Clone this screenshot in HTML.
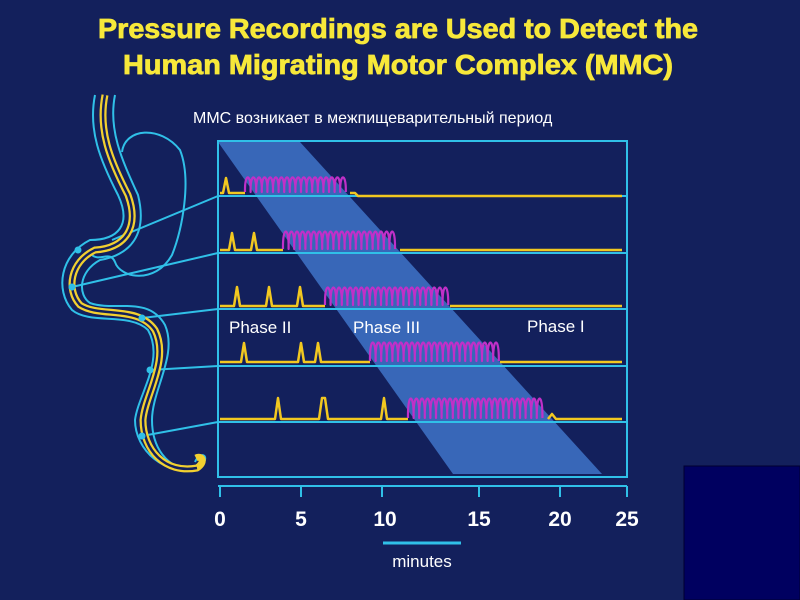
<!DOCTYPE html>
<html><head><meta charset="utf-8"><style>
html,body{margin:0;padding:0;background:#13205c;}
svg{display:block}
</style></head><body>
<svg id="s" width="800" height="600" viewBox="0 0 800 600" xmlns="http://www.w3.org/2000/svg">
<rect width="800" height="600" fill="#13205c"/>
<rect x="684" y="466" width="116" height="134" fill="#000060" stroke="#000030"/>
<g font-family="Liberation Sans, sans-serif" font-weight="bold" font-size="28" fill="#f7e83a" stroke="#f7e83a" stroke-width="0.8" text-anchor="middle">
<text x="398" y="38" textLength="600" lengthAdjust="spacingAndGlyphs">Pressure Recordings are Used to Detect the</text>
<text x="398" y="74" textLength="550" lengthAdjust="spacingAndGlyphs">Human Migrating Motor Complex (MMC)</text>
</g>
<text x="193" y="123" font-family="Liberation Sans, sans-serif" font-size="16" fill="#fff">MMC возникает в межпищеварительный период</text>
<polygon points="218,142 300,142 602,474 453,474" fill="#3f74c8" opacity="0.85"/>
<rect x="218" y="141" width="409" height="336" fill="none" stroke="#30c0e8" stroke-width="2"/>
<g stroke="#30c0e8" stroke-width="2">
<line x1="218" y1="196" x2="627" y2="196"/><line x1="218" y1="253" x2="627" y2="253"/>
<line x1="218" y1="309" x2="627" y2="309"/><line x1="218" y1="366" x2="627" y2="366"/>
<line x1="218" y1="422" x2="627" y2="422"/>
<line x1="218" y1="486" x2="627" y2="486"/>
<line x1="220" y1="486" x2="220" y2="497"/><line x1="301" y1="486" x2="301" y2="497"/>
<line x1="382" y1="486" x2="382" y2="497"/><line x1="479" y1="486" x2="479" y2="497"/>
<line x1="560" y1="486" x2="560" y2="497"/><line x1="627" y1="486" x2="627" y2="497"/>
<line x1="383" y1="543" x2="461" y2="543" stroke-width="3"/>
</g>
<g font-family="Liberation Sans, sans-serif" font-size="21" fill="#fff" text-anchor="middle" font-weight="bold">
<text x="220" y="526">0</text><text x="301" y="526">5</text><text x="385" y="526">10</text>
<text x="479" y="526">15</text><text x="560" y="526">20</text><text x="627" y="526">25</text>
</g>
<text x="422" y="567" font-family="Liberation Sans, sans-serif" font-size="17" fill="#fff" text-anchor="middle">minutes</text>
<g font-family="Liberation Sans, sans-serif" font-size="17" fill="#fff">
<text x="229" y="333">Phase II</text><text x="353" y="333">Phase III</text><text x="527" y="332">Phase I</text>
</g>
<g fill="none" stroke-width="2.5" stroke-linejoin="round">
<path stroke="#f2c820" d="M220,193 L223,193 L226,178 L229,193 L245,193 M350,193 L355,193 L358,196 L622,196"/>
<path stroke="#f2c820" d="M220,250 L229,250 L232,233 L235,250 L251,250 L254,233 L257,250 L283,250 M400,250 L622,250"/>
<path stroke="#f2c820" d="M220,306 L234,306 L237,287 L240,306 L266,306 L269,287 L272,306 L297,306 L300,287 L303,306 L325,306 M450,306 L622,306"/>
<path stroke="#f2c820" d="M220,362 L241,362 L244,343 L247,362 L298,362 L301,343 L304,362 L315,362 L318,343 L321,362 L370,362 M500,362 L622,362"/>
<path stroke="#f2c820" d="M220,419 L275,419 L278,398 L281,419 L319,419 L322,398 L325,398 L328,419 L381,419 L384,398 L387,419 L408,419 M548,419 L552,414 L556,419 L622,419"/>
<g id="pw" stroke="#c030c8" stroke-width="2.2"></g>
</g>
<g fill="none" stroke="#30c0e8" stroke-width="2">
<path d="M122,152 C125,128 160,125 180,150 C192,180 182,230 172,255 C155,285 120,278 115,262 C110,250 100,262 92,255"/>
<path d="M95,95 C88,130 100,160 118,195 C132,225 118,240 90,240 C60,255 55,290 72,310 C90,325 130,312 148,330 C165,360 138,395 135,420 C135,450 165,478 200,468 C212,455 200,450 195,462"/>
<path d="M115,95 C108,130 122,160 138,195 C148,235 130,255 100,260 C78,272 78,295 90,303 C115,312 148,295 165,325 C178,355 152,390 152,420 C152,445 165,470 195,470"/>
<line x1="112" y1="240" x2="218" y2="196"/>
<line x1="72" y1="287" x2="218" y2="253"/>
<line x1="142" y1="318" x2="218" y2="309"/>
<line x1="150" y1="370" x2="218" y2="366"/>
<line x1="142" y1="436" x2="218" y2="422"/>
</g>
<g fill="none" stroke="#f2d030" stroke-width="7">
<path d="M105,95 C98,130 110,160 128,195 C140,228 125,248 95,250 C70,262 66,290 80,305 C100,318 138,305 155,330 C170,360 145,395 143,420 C143,450 165,474 197,468 C206,462 202,455 196,458"/>
</g>
<g fill="none" stroke="#13205c" stroke-width="2.5">
<path d="M105,95 C98,130 110,160 128,195 C140,228 125,248 95,250 C70,262 66,290 80,305 C100,318 138,305 155,330 C170,360 145,395 143,420 C143,450 165,474 197,468"/>
</g>
<g fill="#30c0e8">
<circle cx="78" cy="250" r="3.5"/><circle cx="72" cy="287" r="3.5"/><circle cx="142" cy="318" r="3.5"/><circle cx="150" cy="370" r="3.5"/><circle cx="142" cy="436" r="3.5"/>
</g>
</svg>
<script>
(function(){
var rows=[[245,350,192,15],[283,400,249,18],[325,450,305,18],[370,500,361,19],[408,548,418,20]];
var g=document.getElementById('pw'),ns='http://www.w3.org/2000/svg';
rows.forEach(function(r){
 var x=r[0],d='M'+x+','+r[2],p=5.6;
 while(x+p<=r[1]){
  d+=' C'+(x-0.5)+','+(r[2]-r[3]*1.3)+' '+(x+p+0.5)+','+(r[2]-r[3]*1.3)+' '+(x+p)+','+r[2];
  x+=p;
 }
 var e=document.createElementNS(ns,'path');e.setAttribute('d',d);g.appendChild(e);
});
})();
</script>
</body></html>
